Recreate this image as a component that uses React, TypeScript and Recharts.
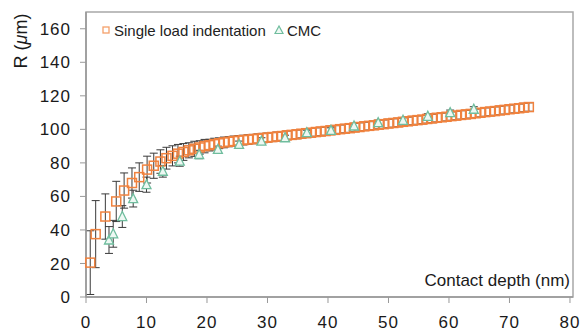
import React from "react";
import {
  ScatterChart,
  Scatter,
  XAxis,
  YAxis,
  ErrorBar,
  ReferenceArea,
  Legend,
} from "recharts";

// Single load indentation: contact depth (nm), R (µm), error (µm)
const slDepth = [
  0.7, 1.6, 3.2, 5.0, 6.3, 7.6, 8.8, 10.1, 11.2, 12.3, 13.3, 14.3, 15.2, 16.1, 17.0, 17.9, 18.8, 19.6,
  20.4, 21.2, 22.0, 22.8, 23.6, 24.4, 25.2, 26.0, 26.8, 27.6, 28.4, 29.2, 30.0, 30.8, 31.6, 32.4, 33.2,
  34.0, 34.8, 35.6, 36.4, 37.2, 38.0, 38.8, 39.6, 40.4, 41.2, 42.0, 42.8, 43.6, 44.4, 45.2, 46.0, 46.8,
  47.6, 48.4, 49.2, 50.0, 50.8, 51.6, 52.4, 53.2, 54.0, 54.8, 55.6, 56.4, 57.2, 58.0, 58.8, 59.6, 60.4,
  61.2, 62.0, 62.8, 63.6, 64.4, 65.2, 66.0, 66.8, 67.6, 68.4, 69.2, 70.0, 70.8, 71.6, 72.4, 73.2,
];
const slR = [
  20.5, 37.5, 48, 57, 63.5, 68, 71.5, 76, 78.3, 80.8, 82.8, 84.2, 85.5, 86.5, 87.5, 88.4, 89.2, 90,
  90.6, 91.2, 91.7, 92.2, 92.6, 93.0, 93.3, 93.6, 93.9, 94.2, 94.5, 94.8, 95.1, 95.4, 95.7, 96.0, 96.4,
  96.7, 97.0, 97.4, 97.7, 98.0, 98.4, 98.7, 99.0, 99.4, 99.7, 100.1, 100.4, 100.7, 101.1, 101.4, 101.8, 102.1,
  102.4, 102.8, 103.1, 103.5, 103.8, 104.1, 104.5, 104.8, 105.2, 105.5, 105.8, 106.2, 106.5, 106.9, 107.2, 107.5, 107.9,
  108.2, 108.6, 108.9, 109.2, 109.6, 109.9, 110.3, 110.6, 110.9, 111.3, 111.6, 112.0, 112.3, 112.6, 113.0, 113.3,
];
const slErr = [
  19, 20, 13.5, 12, 10.5, 9, 8.5, 8, 7.5, 7, 6.5, 6, 5.5, 5, 4.5, 4.5, 4, 4,
  3.5, 3.5, 3.2, 3.2, 3, 3, 3, 2.9, 2.9, 2.8, 2.8, 2.8, 2.7, 2.7, 2.7, 2.6, 2.6,
  2.6, 2.6, 2.5, 2.5, 2.5, 2.5, 2.5, 2.5, 2.5, 2.5, 2.5, 2.5, 2.5, 2.5, 2.5, 2.5, 2.5,
  2.5, 2.5, 2.5, 2.5, 2.5, 2.5, 2.5, 2.5, 2.5, 2.5, 2.5, 2.5, 2.5, 2.5, 2.5, 2.5, 2.5,
  2.5, 2.5, 2.5, 2.5, 2.5, 2.5, 2.5, 2.5, 2.5, 2.5, 2.5, 2.5, 2.5, 2.5, 2.5, 2.5,
];

// CMC
const cmcDepth = [3.8, 4.5, 6.0, 7.8, 10.0, 12.7, 15.5, 18.7, 21.8, 25.3, 29.0, 32.9, 36.5, 40.5, 44.3, 48.3, 52.4, 56.5, 60.2, 64.1];
const cmcR = [34, 37.7, 48, 58.7, 67, 75, 81, 85, 88, 91, 93, 95, 98, 99.4, 102, 104, 105.4, 107.8, 110, 112];
const cmcErr = [8, 8, 6.5, 5, 4.5, 3.5, 3, 2.5, 2, 2, 2, 1.5, 1.5, 1.5, 1.5, 1.5, 1.5, 1.5, 1.5, 1.5];

const xTicks = [0, 10, 20, 30, 40, 50, 60, 70, 80];
const yTicks = [0, 20, 40, 60, 80, 100, 120, 140, 160];

const seriesNames = ["Single load indentation", "CMC"];
const xTitle = "Contact depth (nm)";

const slData = slDepth.map((x, i) => ({ x, y: slR[i], err: slErr[i] }));
const cmcData = cmcDepth.map((x, i) => ({ x, y: cmcR[i], err: cmcErr[i] }));

const ORANGE = "#f0823e";
const TEAL = "#6fbd9e";
const FONT = "'Liberation Sans', Arial, sans-serif";

const SquareShape = (props: any) => {
  const { cx, cy } = props;
  if (cx == null || cy == null) return null;
  return <rect x={cx - 4.5} y={cy - 4.5} width={9} height={9} fill="none" stroke={ORANGE} strokeWidth={1.5} />;
};

const TriangleShape = (props: any) => {
  const { cx, cy } = props;
  if (cx == null || cy == null) return null;
  return (
    <polygon
      points={`${cx},${cy - 5} ${cx - 4.5},${cy + 4} ${cx + 4.5},${cy + 4}`}
      fill="#eef8f3"
      stroke={TEAL}
      strokeWidth={1.3}
    />
  );
};

const LegendContent = () => (
  <svg width={240} height={26} style={{ display: "block" }}>
    <rect x={5} y={9} width={6} height={6} fill="none" stroke="#f5a06a" strokeWidth={1.3} />
    <text x={16} y={18} fontSize={15} fontFamily={FONT} fill="#222">
      {seriesNames[0]}
    </text>
    <polygon points="181,8 177,15.5 185,15.5" fill="#eef8f3" stroke={TEAL} strokeWidth={1.2} />
    <text x={189} y={18} fontSize={15} fontFamily={FONT} fill="#222">
      {seriesNames[1]}
    </text>
  </svg>
);

const YLabel = (props: any) => {
  const vb = props.viewBox || { x: 0, y: 0 };
  const x = vb.x + 21;
  const y = vb.y + 29;
  return (
    <text
      x={x}
      y={y}
      transform={`rotate(-90, ${x}, ${y})`}
      textAnchor="middle"
      dominantBaseline="central"
      fontSize={18}
      fontFamily={FONT}
      fill="#1a1a1a"
    >
      R (<tspan fontStyle="italic">μ</tspan>m)
    </text>
  );
};

const XLabel = (props: any) => {
  const vb = props.viewBox || { x: 0, y: 0, width: 0 };
  return (
    <text
      x={vb.x + vb.width - 3}
      y={vb.y - 11}
      textAnchor="end"
      fontSize={17}
      fontFamily={FONT}
      fill="#1a1a1a"
    >
      {xTitle}
    </text>
  );
};

const tickStyle = { fontSize: 17, fontFamily: FONT, fill: "#1a1a1a", letterSpacing: 1 };

export default function App() {
  return (
    <div style={{ position: "absolute", left: 0, top: 0, background: "#fff" }}>
      <ScatterChart width={587} height={335} margin={{ top: 12, right: 14, bottom: 8, left: 0 }}>
        <XAxis
          type="number"
          dataKey="x"
          domain={[0, 80.5]}
          ticks={xTicks}
          interval={0}
          axisLine={{ stroke: "#999", strokeWidth: 1.5 }}
          tickLine={{ stroke: "#999" }}
          tickSize={6}
          tickMargin={13}
          tick={tickStyle}
          height={30}
          label={<XLabel />}
        />
        <YAxis
          type="number"
          dataKey="y"
          domain={[0, 170]}
          ticks={yTicks}
          interval={0}
          axisLine={{ stroke: "#999", strokeWidth: 1.5 }}
          tickLine={{ stroke: "#999" }}
          tickSize={6}
          tickMargin={9}
          tick={tickStyle}
          width={86}
          label={<YLabel />}
        />
        <ReferenceArea x1={0} x2={80.5} y1={0} y2={170} fill="none" stroke="#a8a8a8" strokeWidth={1.5} />
        <Legend
          layout="horizontal"
          verticalAlign="middle"
          align="center"
          wrapperStyle={{ top: 18, left: 98, width: 240, right: "auto", bottom: "auto" }}
          content={<LegendContent />}
        />
        <Scatter name={seriesNames[0]} data={slData} shape={<SquareShape />} isAnimationActive={false} fill={ORANGE}>
          <ErrorBar dataKey="err" direction="y" width={4} stroke="#3a3a3a" strokeWidth={1} isAnimationActive={false} />
        </Scatter>
        <Scatter name={seriesNames[1]} data={cmcData} shape={<TriangleShape />} isAnimationActive={false} fill={TEAL}>
          <ErrorBar dataKey="err" direction="y" width={4} stroke="#3a3a3a" strokeWidth={1} isAnimationActive={false} />
        </Scatter>
      </ScatterChart>
    </div>
  );
}
